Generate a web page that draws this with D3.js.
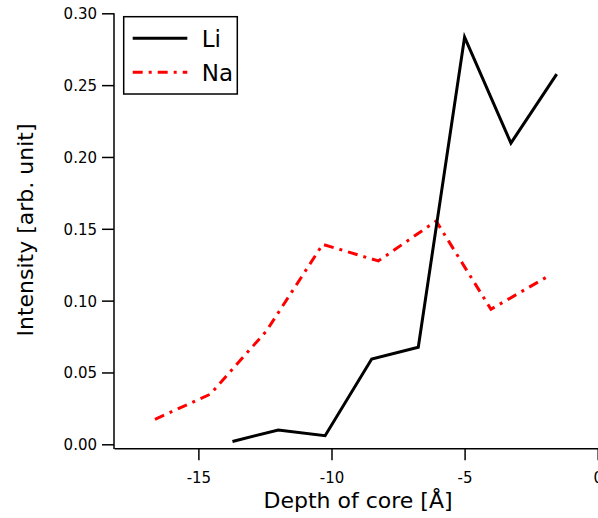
<!DOCTYPE html>
<html>
<head>
<meta charset="utf-8">
<script src="https://cdn.jsdelivr.net/npm/d3@7"></script>
<style>
  html, body { margin: 0; padding: 0; background: #fff; }
  svg { display: block; font-family: "DejaVu Sans", Verdana, sans-serif; }
</style>
</head>
<body>
<script>
// ---- data ----
const liDepth = [-13.72, -12.0, -10.24, -8.49, -6.74, -5.0, -3.26, -1.54];
const liIntensity = [0.002, 0.010, 0.006, 0.0594, 0.0675, 0.2834, 0.2096, 0.2577];
const naDepth = [-16.63, -14.55, -12.44, -10.33, -8.24, -6.07, -4.01, -1.86];
const naIntensity = [0.0174, 0.0349, 0.079, 0.1392, 0.1276, 0.1554, 0.094, 0.117];
const xTicks = [-15, -10, -5, 0];
const yTicks = [0, 0.05, 0.10, 0.15, 0.20, 0.25, 0.30];
const seriesNames = ["Li", "Na"];
const xTitle = "Depth of core [Å]";
const yTitle = "Intensity [arb. unit]";

const W = 598, H = 518;
const svg = d3.select("body").append("svg").attr("width", W).attr("height", H);

const x = d3.scaleLinear().domain([-18.17, 0]).range([114, 597.7]);
const y = d3.scaleLinear().domain([0, 0.30]).range([444.3, 13.3]);
const axisY = 448.3; // x axis drawn with standoff below y=0

// X axis
const gx = svg.append("g").attr("transform", `translate(0,${axisY})`)
  .call(d3.axisBottom(x).tickValues(xTicks).tickFormat(d3.format("d"))
        .tickSize(12).tickSizeOuter(0).tickPadding(12));
gx.select(".domain").attr("stroke-width", 1.5).attr("stroke", "#000");
gx.selectAll(".tick line").attr("stroke-width", 1.5).attr("stroke", "#000");
gx.selectAll(".tick text").attr("font-size", 15).attr("fill", "#000")
  .attr("font-family", "DejaVu Sans").text(d => d === 0 ? "0" : String(d).replace("−", "-"));

// Y axis
const gy = svg.append("g").attr("transform", `translate(${x.range()[0]},0)`)
  .call(d3.axisLeft(y).tickValues(yTicks).tickFormat(d3.format(".2f"))
        .tickSize(12).tickSizeOuter(0).tickPadding(5));
gy.select(".domain").remove();
gy.selectAll(".tick line").attr("stroke-width", 1.5).attr("stroke", "#000");
gy.selectAll(".tick text").attr("font-size", 15).attr("fill", "#000")
  .attr("font-family", "DejaVu Sans").attr("dy", "0.36em");
svg.append("line")
  .attr("x1", x.range()[0]).attr("x2", x.range()[0])
  .attr("y1", y(0.30)).attr("y2", axisY + 0.75)
  .attr("stroke", "#000").attr("stroke-width", 1.5);

// Titles
svg.append("text").attr("x", 358).attr("y", 508.3).attr("text-anchor", "middle")
  .attr("font-size", 22).text(xTitle);
svg.append("text").attr("transform", "translate(33.3,230) rotate(-90)")
  .attr("text-anchor", "middle").attr("font-size", 22).text(yTitle);

// Lines
const line = d3.line().x(d => x(d[0])).y(d => y(d[1]));
const liData = liDepth.map((d, i) => [d, liIntensity[i]]);
const naData = naDepth.map((d, i) => [d, naIntensity[i]]);

svg.append("path").datum(naData).attr("d", line)
  .attr("fill", "none").attr("stroke", "#ff0000").attr("stroke-width", 3)
  .attr("stroke-dasharray", "10,6,3,6");
svg.append("path").datum(liData).attr("d", line)
  .attr("fill", "none").attr("stroke", "#000").attr("stroke-width", 3);

// Legend
const lg = svg.append("g");
lg.append("rect").attr("x", 123.7).attr("y", 16.7).attr("width", 113.6).attr("height", 77.3)
  .attr("fill", "#fff").attr("stroke", "#000").attr("stroke-width", 1.5);
const legendStyles = [
  { stroke: "#000", dash: null, ly: 38.3, ty: 46.7 },
  { stroke: "#ff0000", dash: "10,6,3,6", ly: 72.3, ty: 81 }
];
seriesNames.forEach((name, i) => {
  const s = legendStyles[i];
  lg.append("line").attr("x1", 132.7).attr("x2", 187.3).attr("y1", s.ly).attr("y2", s.ly)
    .attr("stroke", s.stroke).attr("stroke-width", 3)
    .attr("stroke-dasharray", s.dash);
  lg.append("text").attr("x", 201.7).attr("y", s.ty).attr("font-size", 23).text(name);
});
</script>
</body>
</html>
